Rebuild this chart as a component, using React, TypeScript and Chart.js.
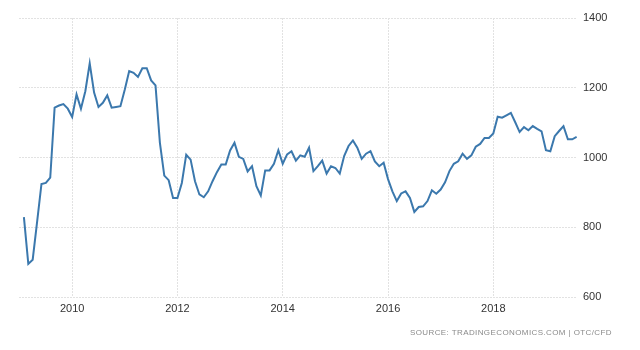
import React, { useEffect, useRef } from "react";
import { Chart, registerables } from "chart.js";

Chart.register(...registerables);

// Monthly values, first point = end of Jan 2009
const START_YEAR = 2009;
const values2009 = [829, 695, 707, 815, 924, 927, 942, 1143, 1149, 1153, 1140, 1116];
const values2010 = [1181, 1140, 1190, 1270, 1186, 1145, 1157, 1178, 1143, 1145, 1147, 1195];
const values2011 = [1248, 1243, 1231, 1256, 1256, 1221, 1207, 1042, 948, 935, 884, 884];
const values2012 = [927, 1008, 994, 932, 894, 886, 903, 932, 958, 980, 980, 1020];
const values2013 = [1042, 1002, 996, 960, 975, 918, 891, 963, 963, 982, 1021, 982];
const values2014 = [1009, 1018, 991, 1006, 1002, 1028, 961, 975, 991, 954, 975, 970];
const values2015 = [954, 1004, 1033, 1049, 1028, 996, 1011, 1018, 989, 975, 985, 938];
const values2016 = [903, 875, 897, 903, 884, 844, 858, 860, 875, 906, 896, 908];
const values2017 = [929, 961, 982, 989, 1011, 996, 1006, 1031, 1039, 1056, 1056, 1069];
const values2018 = [1117, 1114, 1121, 1128, 1101, 1073, 1087, 1078, 1090, 1082, 1075, 1021];
const values2019 = [1018, 1061, 1076, 1090, 1052, 1052, 1059];

const xTickYears = [2010, 2012, 2014, 2016, 2018];
const yTicks = [600, 800, 1000, 1200, 1400];
const sourceText = "SOURCE: TRADINGECONOMICS.COM | OTC/CFD";

const allValues = [
  ...values2009, ...values2010, ...values2011, ...values2012, ...values2013,
  ...values2014, ...values2015, ...values2016, ...values2017, ...values2018, ...values2019,
];

const FONT = "'Liberation Sans Narrow', 'Liberation Sans', Arial, sans-serif";

export default function App() {
  const ref = useRef<HTMLCanvasElement | null>(null);

  useEffect(() => {
    if (!ref.current) return;
    const points = allValues.map((v, i) => ({ x: START_YEAR + (i + 1) / 12, y: v }));
    const chart = new Chart(ref.current, {
      type: "line",
      data: {
        datasets: [
          {
            data: points,
            borderColor: "#3b78ad",
            borderWidth: 2,
            pointRadius: 0,
            tension: 0,
            fill: false,
          },
        ],
      },
      options: {
        animation: false,
        responsive: false,
        layout: { padding: { left: 19, top: 18, right: 0, bottom: 0 } },
        plugins: { legend: { display: false }, tooltip: { enabled: false } },
        scales: {
          x: {
            type: "linear",
            min: 2008.99,
            max: 2019.59,
            afterBuildTicks: (scale: any) => {
              scale.ticks = xTickYears.map((v) => ({ value: v }));
            },
            afterFit: (scale: any) => {
              scale.height = 53;
            },
            grid: { color: "#e2e2e2", lineWidth: 1, drawTicks: false },
            border: { display: false, dash: [2, 1] },
            ticks: {
              padding: 5,
              color: "#333",
              font: { family: FONT, size: 11 },
              maxRotation: 0,
              autoSkip: false,
              callback: (v: any) => String(v),
            },
          },
          y: {
            position: "right",
            min: 600,
            max: 1400,
            afterBuildTicks: (scale: any) => {
              scale.ticks = yTicks.map((v) => ({ value: v }));
            },
            afterFit: (scale: any) => {
              scale.width = 63;
            },
            grid: { color: "#e2e2e2", lineWidth: 1, drawTicks: false },
            border: { display: false, dash: [2, 1] },
            ticks: {
              padding: 6,
              color: "#333",
              font: { family: FONT, size: 11 },
              callback: (v: any) => String(v),
            },
          },
        },
      },
    });
    return () => chart.destroy();
  }, []);

  return (
    <div style={{ position: "absolute", left: 0, top: 0, width: 640, height: 350, background: "#fff" }}>
      <canvas ref={ref} width={640} height={350} style={{ display: "block" }} />
      <div
        style={{
          position: "absolute",
          right: 28,
          top: 328,
          fontFamily: FONT,
          fontSize: 8,
          letterSpacing: 0.4,
          color: "#8a8a8a",
          whiteSpace: "nowrap",
        }}
      >
        {sourceText}
      </div>
    </div>
  );
}
